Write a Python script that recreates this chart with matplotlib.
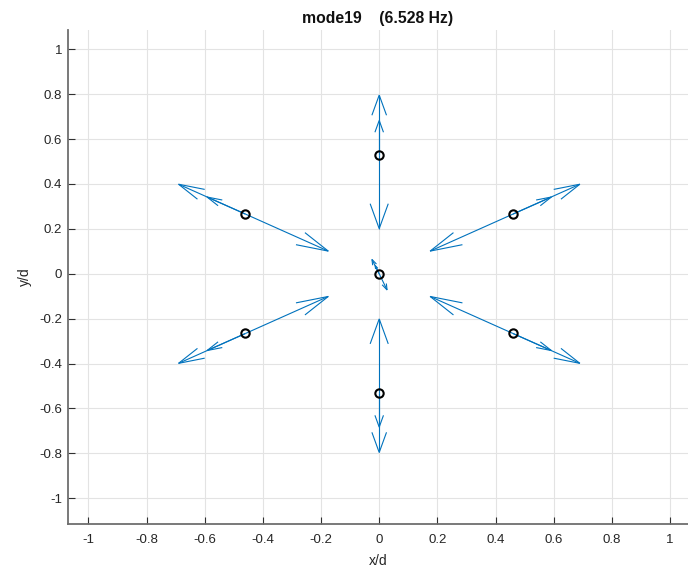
import matplotlib
matplotlib.use("Agg")
import matplotlib.pyplot as plt
import numpy as np

plt.rcParams['font.family'] = ['Liberation Sans', 'DejaVu Sans']

# Node positions (normalised by d)
node_x = [0.0, 0.46, 0.46, 0.0, -0.46, -0.46, 0.0]
node_y = [0.531, 0.266, -0.266, -0.531, -0.266, 0.266, 0.0]

# Mode-shape vectors at each node
long_u = [0.0, 0.23, 0.23, 0.0, -0.23, -0.23, -0.025]
long_v = [0.265, 0.133, -0.133, -0.265, -0.133, 0.133, 0.064]
short_u = [0.0, 0.132, 0.132, 0.0, -0.132, -0.132, -0.014]
short_v = [0.152, 0.076, -0.076, -0.152, -0.076, 0.076, 0.037]
back_u = [0.0, -0.285, -0.285, 0.0, 0.285, 0.285, 0.027]
back_v = [-0.33, -0.165, 0.165, 0.33, 0.165, -0.165, -0.072]

xticks = [-1, -0.8, -0.6, -0.4, -0.2, 0, 0.2, 0.4, 0.6, 0.8, 1]
xtick_labels = ['-1', '-0.8', '-0.6', '-0.4', '-0.2', '0', '0.2', '0.4', '0.6', '0.8', '1']
yticks = [-1, -0.8, -0.6, -0.4, -0.2, 0, 0.2, 0.4, 0.6, 0.8, 1]
ytick_labels = ['-1', '-0.8', '-0.6', '-0.4', '-0.2', '0', '0.2', '0.4', '0.6', '0.8', '1']

title = 'mode19    (6.528 Hz)'

W, H, DPI = 688, 568, 100
fig = plt.figure(figsize=(W / DPI, H / DPI), dpi=DPI)
ax_l, ax_b, ax_t = 67.7, 43.7, 30.0
ax = fig.add_axes([ax_l / W, ax_b / H, (W - ax_l) / W, (H - ax_b - ax_t) / H])
ax.set_xlim(-1.071, 1.0617)
ax.set_ylim(-1.116, 1.086)

ax.set_xticks(xticks)
ax.set_xticklabels(xtick_labels)
ax.set_yticks(yticks)
ax.set_yticklabels(ytick_labels)
ax.grid(True, color='#e3e3e3', linewidth=0.8)
ax.set_axisbelow(True)
for s in ('top', 'right'):
    ax.spines[s].set_visible(False)
for s in ('left', 'bottom'):
    ax.spines[s].set_color('#6e6e6e')
    ax.spines[s].set_linewidth(1.3)
ax.tick_params(direction='in', length=5, width=0.8, color='#303030',
               labelsize=9.5, labelcolor='#262626')
ax.tick_params(axis='x', pad=7)
ax.tick_params(axis='y', pad=4)

ax.set_xlabel('x/d', fontsize=10, color='#262626', labelpad=6)
ax.set_ylabel('y/d', fontsize=10, color='#262626', labelpad=5)
ax.set_title(title, fontsize=11.3, fontweight='bold', color='#111111', pad=5)

arrow_color = '#0072BD'
alpha, beta = 0.33, 0.28  # quiver-style head length and width factors


def draw_arrow(x0, y0, u, v):
    # shaft
    ax.plot([x0, x0 + u], [y0, y0 + v], color=arrow_color, lw=0.8,
            solid_capstyle='butt')
    # open arrowhead, built in data units
    hx = [x0 + u - alpha * (u + beta * v), x0 + u, x0 + u - alpha * (u - beta * v)]
    hy = [y0 + v - alpha * (v - beta * u), y0 + v, y0 + v - alpha * (v + beta * u)]
    ax.plot(hx, hy, color=arrow_color, lw=0.8, solid_joinstyle='miter')


for i in range(len(node_x)):
    draw_arrow(node_x[i], node_y[i], long_u[i], long_v[i])
    draw_arrow(node_x[i], node_y[i], short_u[i], short_v[i])
    draw_arrow(node_x[i], node_y[i], back_u[i], back_v[i])

ax.plot(node_x, node_y, linestyle='none', marker='o', markersize=6,
        markerfacecolor='none', markeredgecolor='black', markeredgewidth=1.5, zorder=5)

fig.savefig('out.png', dpi=DPI)
